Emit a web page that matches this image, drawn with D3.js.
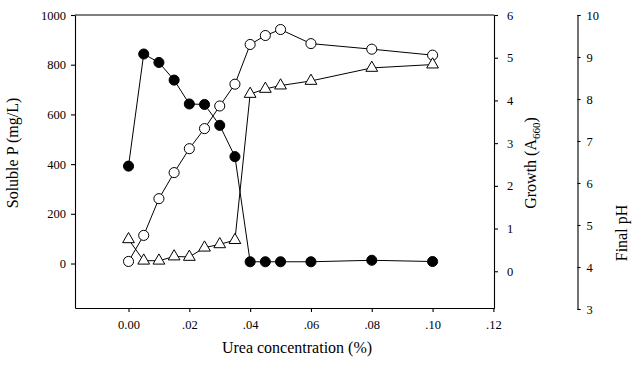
<!DOCTYPE html>
<html>
<head>
<meta charset="utf-8">
<script src="https://cdn.jsdelivr.net/npm/d3@7"></script>
<style>
  body { margin: 0; background: #fff; }
  text { font-family: "Liberation Serif", "Times New Roman", serif; fill: #000; }
</style>
</head>
<body>
<div id="chart"></div>
<script>
const ureaConc = [0, 0.005, 0.01, 0.015, 0.02, 0.025, 0.03, 0.035, 0.04, 0.045, 0.05, 0.06, 0.08, 0.10];
const solubleP = [392, 843, 809, 738, 642, 640, 556, 430, 7, 7, 7, 7, 13, 8];
const growth = [0.23, 0.84, 1.70, 2.31, 2.87, 3.34, 3.87, 4.38, 5.31, 5.52, 5.66, 5.33, 5.20, 5.06];
const finalPH = [4.66, 4.15, 4.15, 4.25, 4.24, 4.46, 4.54, 4.64, 8.12, 8.24, 8.32, 8.43, 8.74, 8.82];

const xTicks = [0, 0.02, 0.04, 0.06, 0.08, 0.10, 0.12];
const xTickLabels = ['0.00', '.02', '.04', '.06', '.08', '.10', '.12'];
const pTicks = [0, 200, 400, 600, 800, 1000];
const growthTicks = [0, 1, 2, 3, 4, 5, 6];
const phTicks = [3, 4, 5, 6, 7, 8, 9, 10];

const width = 635;
const height = 365;
const margin = { left: 75, top: 15, right: 494, bottom: 308 };
const serif = '"Liberation Serif", "Times New Roman", serif';

const svg = d3.select('#chart')
  .append('svg')
  .attr('width', width)
  .attr('height', height);

const x = d3.scaleLinear()
  .domain([-0.0176, 0.1202])
  .range([margin.left, margin.right]);

const yP = d3.scaleLinear()
  .domain([-179, 1000])
  .range([margin.bottom, margin.top]);

const yG = d3.scaleLinear()
  .domain([-0.86, 6])
  .range([margin.bottom, margin.top]);

const yPH = d3.scaleLinear()
  .domain([3, 10])
  .range([309, margin.top]);

function styleAxis(g) {
  g.attr('font-family', serif).attr('font-size', 12.5);
  g.selectAll('path, line').attr('stroke', '#000').attr('stroke-width', 1.1);
  g.selectAll('text').style('font-family', serif).style('font-size', '12.5px');
}

// frame top
svg.append('line')
  .attr('x1', margin.left).attr('x2', margin.right)
  .attr('y1', margin.top).attr('y2', margin.top)
  .attr('stroke', '#000').attr('stroke-width', 1.1);

svg.append('g')
  .attr('transform', `translate(0,${margin.bottom})`)
  .call(d3.axisBottom(x)
    .tickValues(xTicks)
    .tickFormat((d, i) => xTickLabels[i])
    .tickSizeInner(4).tickSizeOuter(0).tickPadding(8))
  .call(styleAxis);

svg.append('g')
  .attr('transform', `translate(${margin.left},0)`)
  .call(d3.axisLeft(yP)
    .tickValues(pTicks)
    .tickFormat(d3.format('d'))
    .tickSizeInner(4).tickSizeOuter(0).tickPadding(5))
  .call(styleAxis);

svg.append('g')
  .attr('transform', `translate(${margin.right},0)`)
  .call(d3.axisRight(yG)
    .tickValues(growthTicks)
    .tickFormat(d3.format('d'))
    .tickSizeInner(4).tickSizeOuter(0).tickPadding(9))
  .call(styleAxis);

svg.append('g')
  .attr('transform', 'translate(577.5,0)')
  .call(d3.axisRight(yPH)
    .tickValues(phTicks)
    .tickFormat(d3.format('d'))
    .tickSizeInner(3).tickSizeOuter(3).tickPadding(6))
  .call(styleAxis);

// axis titles
svg.append('text')
  .attr('text-anchor', 'middle')
  .attr('font-size', 16)
  .attr('x', 297).attr('y', 353)
  .text('Urea concentration (%)');

svg.append('text')
  .attr('text-anchor', 'middle')
  .attr('font-size', 16)
  .attr('transform', 'translate(18,153) rotate(-90)')
  .text('Soluble P (mg/L)');

const gTitle = svg.append('text')
  .attr('text-anchor', 'middle')
  .attr('font-size', 16)
  .attr('transform', 'translate(536,163) rotate(-90)');
gTitle.append('tspan').text('Growth (A');
gTitle.append('tspan').attr('font-size', 11).attr('dy', 4).text('660');
gTitle.append('tspan').attr('dy', -4).text(')');

svg.append('text')
  .attr('text-anchor', 'middle')
  .attr('font-size', 16)
  .attr('transform', 'translate(627,233) rotate(-90)')
  .text('Final pH');

// series
const series = [
  { values: solubleP, y: yP, shape: 'circle', fill: '#000' },
  { values: growth, y: yG, shape: 'circle', fill: '#fff' },
  { values: finalPH, y: yPH, shape: 'triangle', fill: '#fff' }
];

const line = d3.line();

series.forEach((s) => {
  const pts = ureaConc.map((c, i) => [x(c), s.y(s.values[i])]);
  svg.append('path')
    .attr('d', line(pts))
    .attr('fill', 'none')
    .attr('stroke', '#000')
    .attr('stroke-width', 1);
});

series.forEach((s) => {
  const pts = ureaConc.map((c, i) => [x(c), s.y(s.values[i])]);
  const sym = d3.symbol()
    .type(s.shape === 'circle' ? d3.symbolCircle : d3.symbolTriangle)
    .size(s.shape === 'circle' ? 80 : 60);
  svg.append('g')
    .selectAll('path')
    .data(pts)
    .enter()
      .append('path')
      .attr('transform', (d) => `translate(${d[0]},${d[1]})`)
      .attr('d', sym)
      .attr('fill', s.fill)
      .attr('stroke', '#000')
      .attr('stroke-width', 1);
});
</script>
</body>
</html>
